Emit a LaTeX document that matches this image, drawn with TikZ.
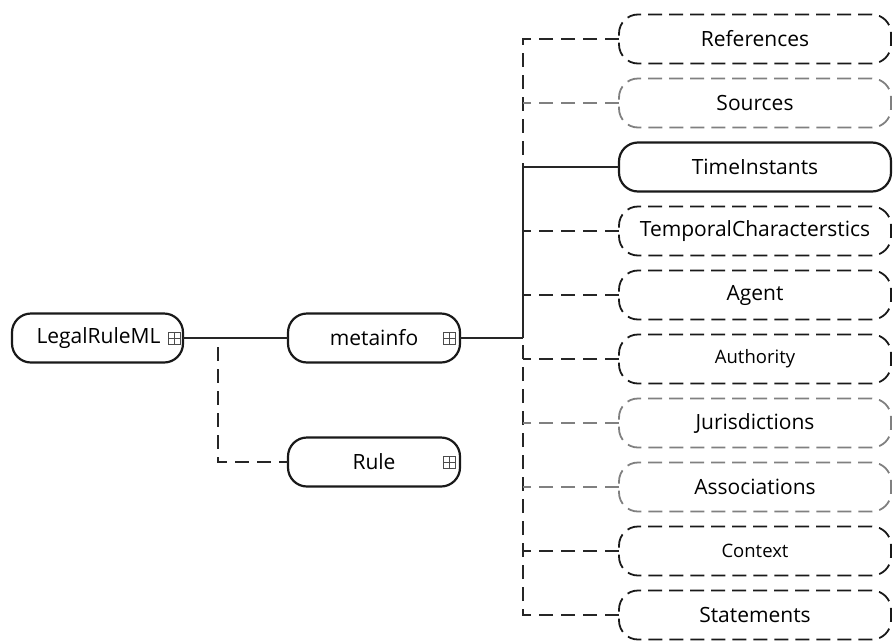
\documentclass[tikz,border=0pt]{standalone}
\usepackage{fontspec}
\setmainfont{Open Sans}
\usetikzlibrary{calc}
\begin{document}
\begin{tikzpicture}[x=1pt,y=-1pt,
  every node/.style={inner sep=0pt, outer sep=0pt},
  elem/.style={draw=black!90, line width=2.2pt, rounded corners=19pt,
    minimum height=49pt, font=\fontsize{21}{23}\selectfont},
  optelem/.style={elem, line width=1.8pt, dash pattern=on 14pt off 7pt},
  optlite/.style={optelem, draw=black!50},
  optsmall/.style={optelem, font=\fontsize{18.5}{20}\selectfont},
  wire/.style={line width=1.4pt, draw=black!85},
  optwire/.style={wire, dash pattern=on 14pt off 8pt},
  expander/.style={black!70, line width=0.9pt}]
\useasboundingbox (0,0) rectangle (893,640);

% left and middle elements
\node[elem, minimum width=171pt] (root) at (97.5,338) {\hspace*{2pt}LegalRuleML};
\node[elem, minimum width=172pt] (meta) at (374,338) {metainfo};
\node[elem, minimum width=172pt] (rule) at (374,462) {Rule};

% children of metainfo
\foreach \n/\t/\y/\s in {
  ref/References/39/optelem,
  src/Sources/103/optlite,
  ti/TimeInstants/167/elem,
  tc/TemporalCharacterstics/231/optelem,
  ag/Agent/295/optelem,
  au/Authority/359/optsmall,
  ju/Jurisdictions/423/optlite,
  as/Associations/487/optlite,
  ct/Context/551/optsmall,
  st/Statements/615/optelem}
  \node[\s, minimum width=272pt] (\n) at (755,\y) {\t};

% expand markers
\foreach \n/\dx in {root/9, meta/11, rule/11}{
  \draw[expander] ($(\n.east)+(-\dx-6,-6)$) rectangle ($(\n.east)+(-\dx+6,6)$);
  \draw[expander] ($(\n.east)+(-\dx-6,0)$) -- ($(\n.east)+(-\dx+6,0)$)
     ($(\n.east)+(-\dx,-6)$) -- ($(\n.east)+(-\dx,6)$);
}

% connectors
\coordinate (bus) at (523,338);
\coordinate (jr) at (218,338);
\draw[wire] (root.east) -- (meta.west);
\draw[optwire] (root.east) -- (jr) |- (rule.west);
\draw[wire] (meta.east) -- (bus);
\draw[optwire] (ref.west) -| (bus);
\draw[optwire] (st.west) -| (bus);
\draw[wire] (ti.west) -| (bus);
\foreach \n in {tc,ag,au,ct}
  \draw[optwire] (\n.west) -- (\n.west -| bus);
\foreach \n in {src,ju,as}
  \draw[optwire, draw=black!50] (\n.west) -- (\n.west -| bus);
\end{tikzpicture}
\end{document}
